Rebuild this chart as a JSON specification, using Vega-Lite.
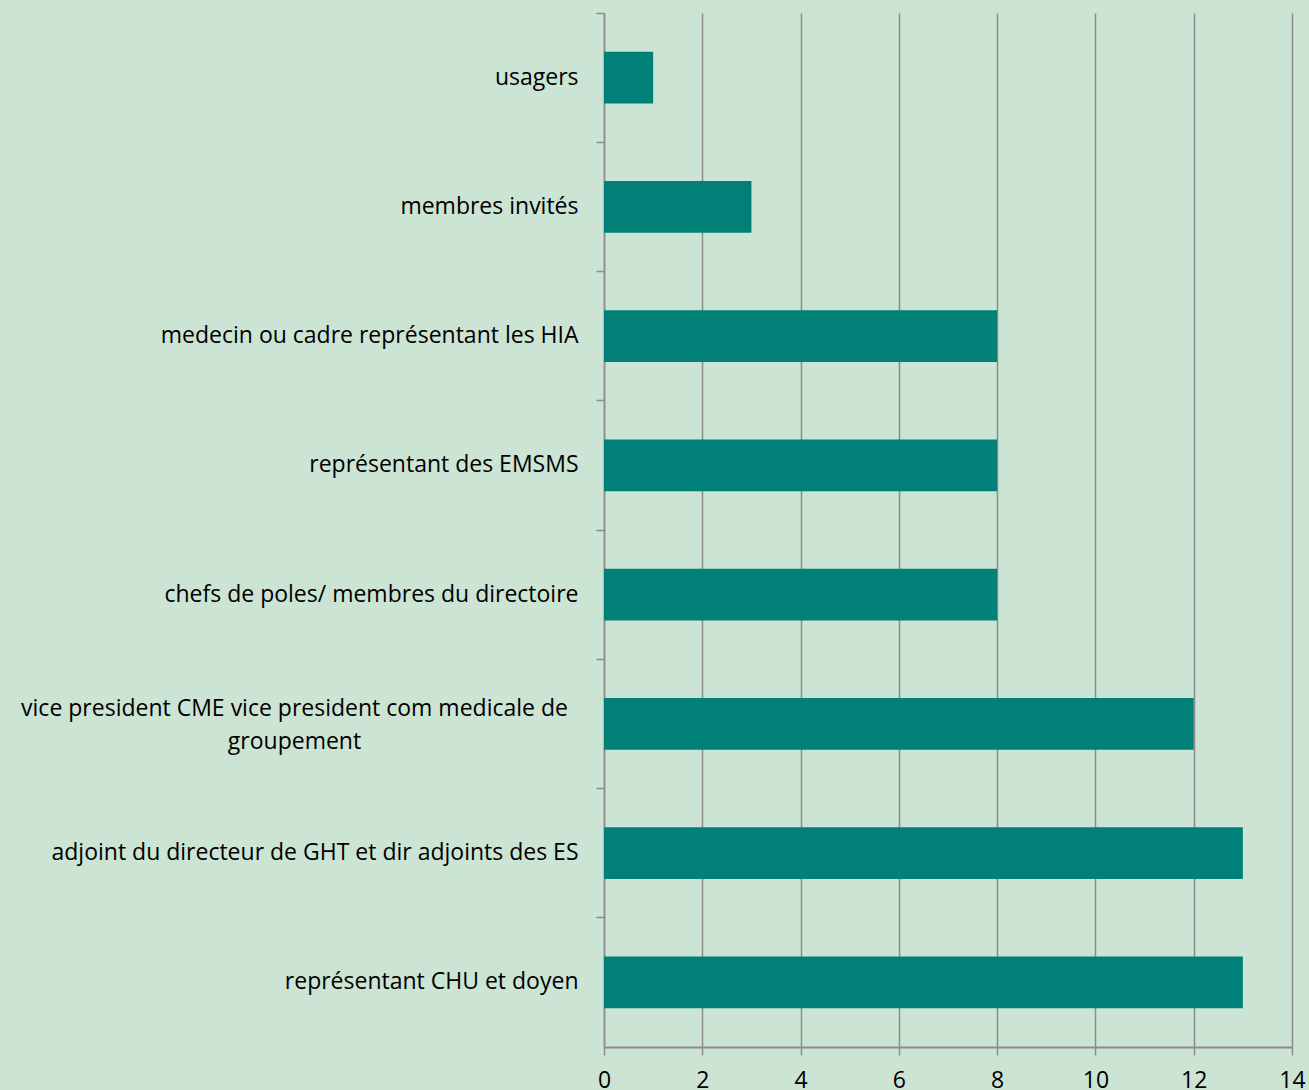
{
  "$schema": "https://vega.github.io/schema/vega-lite/v6.json",
  "autosize": "none",
  "width": 688,
  "height": 1034,
  "padding": {"left": 604, "top": 13, "right": 17, "bottom": 43},
  "background": "#CCE4D3",
  "config": {
    "view": {"stroke": null},
    "font": "Open Sans"
  },
  "data": {
    "values": [
      {"categorie": "usagers", "valeur": 1},
      {"categorie": "membres invités", "valeur": 3},
      {"categorie": "medecin  ou cadre représentant les HIA", "valeur": 8},
      {"categorie": "représentant des EMSMS", "valeur": 8},
      {"categorie": "chefs de poles/ membres du directoire", "valeur": 8},
      {"categorie": "vice president CME vice president com medicale de groupement", "valeur": 12},
      {"categorie": "adjoint du directeur de GHT et dir adjoints des ES", "valeur": 13},
      {"categorie": "représentant CHU et doyen", "valeur": 13}
    ]
  },
  "mark": {"type": "bar", "color": "#008077", "height": {"band": 0.4}},
  "encoding": {
    "y": {
      "field": "categorie",
      "type": "nominal",
      "sort": null,
      "title": null,
      "scale": {"paddingInner": 0, "paddingOuter": 0},
      "axis": {
        "bandPosition": 0,
        "domainColor": "#8c8c8c",
        "domainWidth": 1.5,
        "tickColor": "#8c8c8c",
        "tickWidth": 1.5,
        "tickSize": 8,
        "labelAlign": {
          "condition": {"test": "datum.value === 'vice president CME vice president com medicale de groupement'", "value": "center"},
          "value": "right"
        },
        "labelPadding": {
          "condition": {"test": "datum.value === 'vice president CME vice president com medicale de groupement'", "value": 302},
          "value": 18
        },
        "labelOffset": {
          "condition": {"test": "datum.value === 'vice president CME vice president com medicale de groupement'", "value": -15},
          "value": 0
        },
        "labelFontSize": 23,
        "labelColor": "#000000",
        "labelFont": "Open Sans",
        "labelLimit": 700,
        "labelLineHeight": 33,
        "labelExpr": "datum.label === 'vice president CME vice president com medicale de groupement' ? ['vice president CME vice president com medicale de ', 'groupement'] : datum.label"
      }
    },
    "x": {
      "field": "valeur",
      "type": "quantitative",
      "title": null,
      "scale": {"domain": [0, 14], "nice": false},
      "axis": {
        "values": [0, 2, 4, 6, 8, 10, 12, 14],
        "grid": true,
        "gridColor": "#8c8c8c",
        "gridWidth": 1.5,
        "domainColor": "#8c8c8c",
        "domainWidth": 2,
        "tickColor": "#8c8c8c",
        "tickWidth": 1.5,
        "tickSize": 8,
        "labelPadding": 14,
        "labelFontSize": 23,
        "labelColor": "#000000",
        "labelFont": "Open Sans",
        "labelFlush": false
      }
    }
  }
}
